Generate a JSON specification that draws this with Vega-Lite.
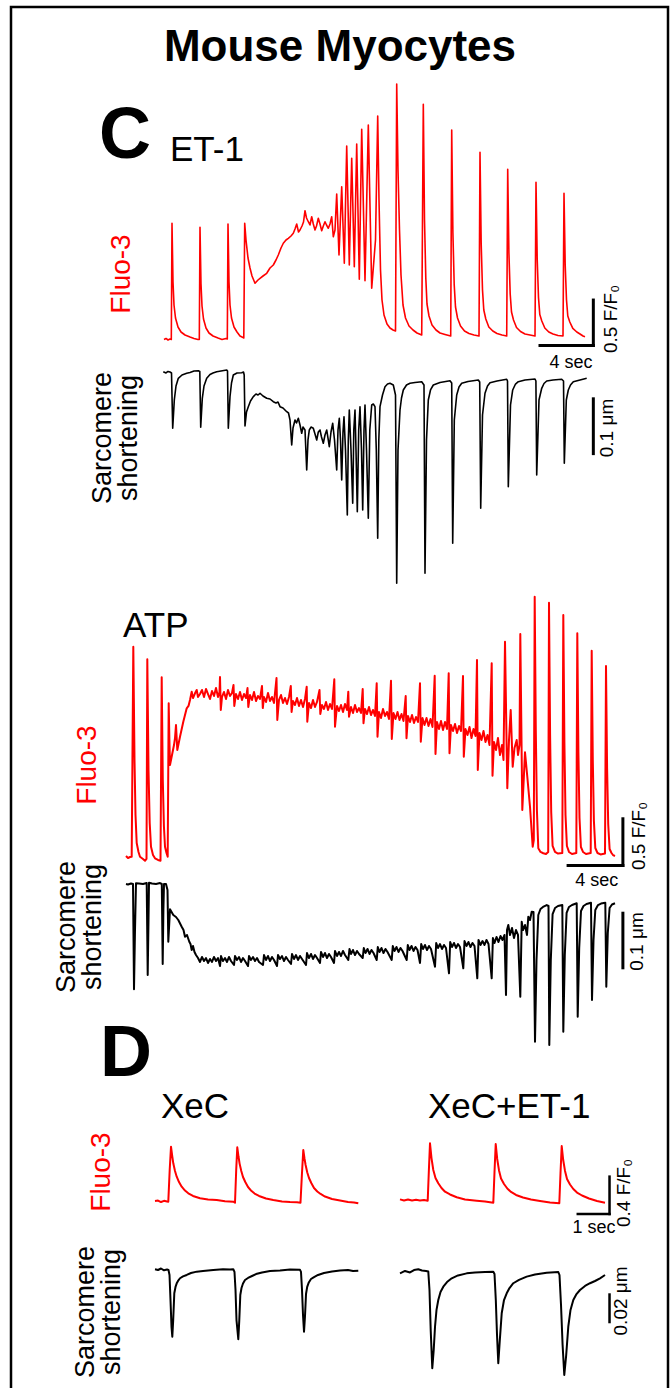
{
"$schema":"https://vega.github.io/schema/vega-lite/v6.json",
"width":670,"height":1388,
"autosize":{"type":"fit","contains":"padding"},
"padding":{"left":11,"top":7,"right":2,"bottom":-3},
"background":"white",
"config":{"view":{"stroke":"#000000","strokeWidth":2.5},"text":{"font":"Liberation Sans","color":"#000000"}},
"datasets":{
"etFluo":[{"t":0,"v":0.995},{"t":0.15,"v":1.006},{"t":0.3,"v":0.989},{"t":0.45,"v":1.0},{"t":0.548,"v":0.995},{"t":0.6,"v":2.273},{"t":0.675,"v":1.627},{"t":0.75,"v":1.374},{"t":0.863,"v":1.231},{"t":1.05,"v":1.132},{"t":1.275,"v":1.077},{"t":1.575,"v":1.044},{"t":1.95,"v":1.022},{"t":2.25,"v":1.006},{"t":2.55,"v":0.995},{"t":2.648,"v":0.995},{"t":2.7,"v":2.229},{"t":2.775,"v":1.605},{"t":2.85,"v":1.363},{"t":2.963,"v":1.22},{"t":3.15,"v":1.121},{"t":3.375,"v":1.066},{"t":3.675,"v":1.033},{"t":4.05,"v":1.011},{"t":4.35,"v":0.995},{"t":4.65,"v":1.006},{"t":4.748,"v":1.0},{"t":4.8,"v":2.265},{"t":4.875,"v":1.627},{"t":4.95,"v":1.374},{"t":5.063,"v":1.231},{"t":5.25,"v":1.132},{"t":5.475,"v":1.077},{"t":5.7,"v":1.033},{"t":5.925,"v":1.017},{"t":5.985,"v":1.011},{"t":6.053,"v":2.273},{"t":6.15,"v":2.089},{"t":6.3,"v":1.891},{"t":6.45,"v":1.781},{"t":6.6,"v":1.693},{"t":6.825,"v":1.613},{"t":7.05,"v":1.649},{"t":7.2,"v":1.668},{"t":7.425,"v":1.693},{"t":7.703,"v":1.723},{"t":7.95,"v":1.781},{"t":8.198,"v":1.814},{"t":8.4,"v":1.869},{"t":8.573,"v":1.924},{"t":8.775,"v":2.001},{"t":8.948,"v":2.053},{"t":9.15,"v":2.089},{"t":9.323,"v":2.108},{"t":9.525,"v":2.133},{"t":9.698,"v":2.163},{"t":9.825,"v":2.21},{"t":9.953,"v":2.265},{"t":10.088,"v":2.177},{"t":10.2,"v":2.199},{"t":10.35,"v":2.243},{"t":10.463,"v":2.287},{"t":10.575,"v":2.411},{"t":10.688,"v":2.331},{"t":10.823,"v":2.29},{"t":10.95,"v":2.254},{"t":11.078,"v":2.345},{"t":11.198,"v":2.265},{"t":11.325,"v":2.199},{"t":11.438,"v":2.243},{"t":11.573,"v":2.328},{"t":11.7,"v":2.265},{"t":11.828,"v":2.191},{"t":11.948,"v":2.243},{"t":12.075,"v":2.29},{"t":12.188,"v":2.254},{"t":12.323,"v":2.218},{"t":12.45,"v":2.265},{"t":12.578,"v":2.345},{"t":12.698,"v":2.125},{"t":12.825,"v":2.199},{"t":12.953,"v":2.595},{"t":13.125,"v":1.924},{"t":13.328,"v":2.675},{"t":13.523,"v":1.833},{"t":13.703,"v":3.123},{"t":13.898,"v":1.814},{"t":14.078,"v":2.988},{"t":14.273,"v":1.795},{"t":14.453,"v":3.145},{"t":14.648,"v":1.657},{"t":14.828,"v":3.307},{"t":15.075,"v":1.641},{"t":15.323,"v":3.354},{"t":15.578,"v":1.558},{"t":15.863,"v":2.089},{"t":16.028,"v":3.453},{"t":16.125,"v":2.529},{"t":16.238,"v":1.759},{"t":16.35,"v":1.429},{"t":16.5,"v":1.264},{"t":16.725,"v":1.165},{"t":16.95,"v":1.121},{"t":17.175,"v":1.099},{"t":17.363,"v":1.088},{"t":17.453,"v":3.805},{"t":17.55,"v":2.859},{"t":17.663,"v":2.199},{"t":17.775,"v":1.704},{"t":17.925,"v":1.374},{"t":18.113,"v":1.231},{"t":18.375,"v":1.143},{"t":18.675,"v":1.099},{"t":18.975,"v":1.066},{"t":19.328,"v":1.044},{"t":19.448,"v":3.582},{"t":19.538,"v":2.309},{"t":19.635,"v":1.671},{"t":19.725,"v":1.385},{"t":19.875,"v":1.253},{"t":20.1,"v":1.154},{"t":20.4,"v":1.099},{"t":20.7,"v":1.066},{"t":21.075,"v":1.05},{"t":21.503,"v":1.033},{"t":21.578,"v":3.299},{"t":21.668,"v":2.166},{"t":21.765,"v":1.6},{"t":21.863,"v":1.352},{"t":22.013,"v":1.231},{"t":22.238,"v":1.143},{"t":22.538,"v":1.088},{"t":22.875,"v":1.061},{"t":23.25,"v":1.044},{"t":23.625,"v":1.033},{"t":23.7,"v":3.054},{"t":23.79,"v":2.045},{"t":23.888,"v":1.539},{"t":23.985,"v":1.319},{"t":24.135,"v":1.22},{"t":24.36,"v":1.132},{"t":24.66,"v":1.088},{"t":24.975,"v":1.061},{"t":25.35,"v":1.044},{"t":25.703,"v":1.033},{"t":25.778,"v":2.867},{"t":25.868,"v":1.946},{"t":25.965,"v":1.495},{"t":26.063,"v":1.297},{"t":26.213,"v":1.209},{"t":26.438,"v":1.127},{"t":26.738,"v":1.083},{"t":27.075,"v":1.055},{"t":27.45,"v":1.044},{"t":27.825,"v":1.033},{"t":27.9,"v":2.724},{"t":27.99,"v":1.88},{"t":28.088,"v":1.455},{"t":28.185,"v":1.27},{"t":28.335,"v":1.198},{"t":28.56,"v":1.121},{"t":28.86,"v":1.077},{"t":29.175,"v":1.055},{"t":29.55,"v":1.039},{"t":29.925,"v":1.033},{"t":30.0,"v":2.603},{"t":30.09,"v":1.814},{"t":30.188,"v":1.429},{"t":30.285,"v":1.253},{"t":30.435,"v":1.187},{"t":30.66,"v":1.116},{"t":30.96,"v":1.077},{"t":31.2,"v":1.055},{"t":31.425,"v":1.033},{"t":31.575,"v":1.025}],
"etSarc":[{"t":-0.053,"v":0.0005},{"t":0.15,"v":-0.0017},{"t":0.3,"v":0.0009},{"t":0.45,"v":0},{"t":0.563,"v":-0.0017},{"t":0.653,"v":-0.0974},{"t":0.773,"v":-0.0484},{"t":0.9,"v":-0.0242},{"t":1.073,"v":-0.0109},{"t":1.35,"v":-0.0052},{"t":1.703,"v":-0.0022},{"t":1.95,"v":-0.0009},{"t":2.25,"v":0.0017},{"t":2.573,"v":0.0022},{"t":2.685,"v":0.0009},{"t":2.753,"v":-0.0957},{"t":2.873,"v":-0.0455},{"t":3.0,"v":-0.0242},{"t":3.203,"v":-0.0109},{"t":3.45,"v":-0.0043},{"t":3.675,"v":-0.0017},{"t":3.953,"v":0.0005},{"t":4.275,"v":0.0017},{"t":4.703,"v":0.0035},{"t":4.763,"v":0.0017},{"t":4.823,"v":-0.0974},{"t":4.95,"v":-0.0427},{"t":5.063,"v":-0.019},{"t":5.198,"v":-0.0052},{"t":5.475,"v":-0.0017},{"t":5.828,"v":-0.0012},{"t":5.963,"v":0},{"t":6.015,"v":-0.0052},{"t":6.075,"v":-0.0934},{"t":6.188,"v":-0.0692},{"t":6.323,"v":-0.06},{"t":6.488,"v":-0.0502},{"t":6.698,"v":-0.0427},{"t":6.9,"v":-0.0381},{"t":7.05,"v":-0.0398},{"t":7.2,"v":-0.0368},{"t":7.425,"v":-0.0415},{"t":7.703,"v":-0.0455},{"t":7.95,"v":-0.0467},{"t":8.198,"v":-0.0514},{"t":8.4,"v":-0.0536},{"t":8.55,"v":-0.0519},{"t":8.7,"v":-0.06},{"t":8.925,"v":-0.0623},{"t":9.203,"v":-0.0687},{"t":9.338,"v":-0.0709},{"t":9.45,"v":-0.083},{"t":9.578,"v":-0.1263},{"t":9.675,"v":-0.0969},{"t":9.825,"v":-0.083},{"t":9.938,"v":-0.0882},{"t":10.073,"v":-0.0801},{"t":10.2,"v":-0.0917},{"t":10.328,"v":-0.106},{"t":10.425,"v":-0.0952},{"t":10.575,"v":-0.1003},{"t":10.703,"v":-0.1695},{"t":10.8,"v":-0.1176},{"t":10.898,"v":-0.1003},{"t":11.025,"v":-0.0952},{"t":11.198,"v":-0.0974},{"t":11.325,"v":-0.1073},{"t":11.453,"v":-0.1176},{"t":11.573,"v":-0.1038},{"t":11.7,"v":-0.1003},{"t":11.813,"v":-0.1125},{"t":11.948,"v":-0.1233},{"t":12.075,"v":-0.109},{"t":12.203,"v":-0.1003},{"t":12.3,"v":-0.1142},{"t":12.398,"v":-0.1292},{"t":12.525,"v":-0.1038},{"t":12.653,"v":-0.0887},{"t":12.788,"v":-0.1176},{"t":12.953,"v":-0.1695},{"t":13.05,"v":-0.1003},{"t":13.148,"v":-0.0801},{"t":13.238,"v":-0.1176},{"t":13.328,"v":-0.1868},{"t":13.425,"v":-0.1038},{"t":13.5,"v":-0.0773},{"t":13.613,"v":-0.1349},{"t":13.748,"v":-0.2474},{"t":13.823,"v":-0.1176},{"t":13.898,"v":-0.0657},{"t":14.025,"v":-0.1349},{"t":14.153,"v":-0.2271},{"t":14.235,"v":-0.1003},{"t":14.325,"v":-0.0657},{"t":14.4,"v":-0.1349},{"t":14.498,"v":-0.2417},{"t":14.603,"v":-0.1003},{"t":14.7,"v":-0.06},{"t":14.813,"v":-0.1349},{"t":14.903,"v":-0.2387},{"t":15.0,"v":-0.1003},{"t":15.075,"v":-0.0571},{"t":15.188,"v":-0.1349},{"t":15.323,"v":-0.2531},{"t":15.435,"v":-0.1003},{"t":15.578,"v":-0.0571},{"t":15.698,"v":-0.0554},{"t":15.825,"v":-0.06},{"t":15.923,"v":-0.1349},{"t":16.028,"v":-0.2877},{"t":16.11,"v":-0.1176},{"t":16.2,"v":-0.06},{"t":16.388,"v":-0.0398},{"t":16.575,"v":-0.0254},{"t":16.763,"v":-0.0208},{"t":16.95,"v":-0.0196},{"t":17.198,"v":-0.0225},{"t":17.363,"v":-0.0398},{"t":17.453,"v":-0.3655},{"t":17.55,"v":-0.1349},{"t":17.7,"v":-0.0657},{"t":17.813,"v":-0.045},{"t":17.948,"v":-0.0311},{"t":18.188,"v":-0.0225},{"t":18.45,"v":-0.0196},{"t":18.825,"v":-0.0182},{"t":19.328,"v":-0.0168},{"t":19.5,"v":-0.0225},{"t":19.575,"v":-0.3482},{"t":19.688,"v":-0.1176},{"t":19.823,"v":-0.0484},{"t":19.988,"v":-0.0311},{"t":20.198,"v":-0.0225},{"t":20.7,"v":-0.0182},{"t":21.45,"v":-0.0151},{"t":21.578,"v":-0.019},{"t":21.653,"v":-0.2963},{"t":21.773,"v":-0.083},{"t":21.953,"v":-0.0398},{"t":22.125,"v":-0.026},{"t":22.328,"v":-0.0196},{"t":22.8,"v":-0.0164},{"t":23.573,"v":-0.0138},{"t":23.678,"v":-0.0173},{"t":23.753,"v":-0.2358},{"t":23.888,"v":-0.0744},{"t":24.075,"v":-0.0368},{"t":24.263,"v":-0.0242},{"t":24.45,"v":-0.0185},{"t":24.975,"v":-0.0156},{"t":25.703,"v":-0.0126},{"t":25.763,"v":-0.0156},{"t":25.823,"v":-0.1984},{"t":25.988,"v":-0.0571},{"t":26.153,"v":-0.0311},{"t":26.363,"v":-0.0208},{"t":26.573,"v":-0.0168},{"t":27.075,"v":-0.0138},{"t":27.825,"v":-0.0121},{"t":27.893,"v":-0.0156},{"t":27.953,"v":-0.1782},{"t":28.125,"v":-0.0484},{"t":28.328,"v":-0.0282},{"t":28.5,"v":-0.0199},{"t":28.703,"v":-0.0156},{"t":29.175,"v":-0.0138},{"t":29.828,"v":-0.0126},{"t":29.963,"v":-0.0156},{"t":30.023,"v":-0.1579},{"t":30.173,"v":-0.0484},{"t":30.323,"v":-0.0311},{"t":30.488,"v":-0.0225},{"t":30.698,"v":-0.0168},{"t":31.2,"v":-0.0138},{"t":31.703,"v":-0.0109}],
"atpFluo":[{"t":-0.073,"v":1.011},{"t":0.073,"v":0.989},{"t":0.219,"v":1.0},{"t":0.343,"v":1.003},{"t":0.46,"v":3.25},{"t":0.548,"v":2.038},{"t":0.621,"v":1.449},{"t":0.708,"v":1.15},{"t":0.84,"v":1.054},{"t":0.949,"v":1.003},{"t":1.168,"v":0.979},{"t":1.314,"v":0.96},{"t":1.424,"v":0.979},{"t":1.482,"v":3.115},{"t":1.57,"v":1.931},{"t":1.657,"v":1.364},{"t":1.752,"v":1.11},{"t":1.898,"v":1.021},{"t":2.044,"v":0.986},{"t":2.263,"v":0.968},{"t":2.446,"v":0.96},{"t":2.533,"v":2.923},{"t":2.613,"v":1.824},{"t":2.694,"v":1.332},{"t":2.774,"v":1.11},{"t":2.884,"v":1.043},{"t":2.971,"v":1.003},{"t":3.044,"v":2.645},{"t":3.095,"v":2.252},{"t":3.139,"v":1.984},{"t":3.285,"v":2.091},{"t":3.431,"v":2.198},{"t":3.504,"v":2.273},{"t":3.577,"v":2.412},{"t":3.672,"v":2.145},{"t":3.869,"v":2.287},{"t":4.11,"v":2.448},{"t":4.358,"v":2.591},{"t":4.49,"v":2.616},{"t":4.599,"v":2.68},{"t":4.723,"v":2.769},{"t":4.818,"v":2.701},{"t":4.964,"v":2.752},{"t":5.088,"v":2.787},{"t":5.183,"v":2.712},{"t":5.329,"v":2.744},{"t":5.475,"v":2.787},{"t":5.621,"v":2.712},{"t":5.767,"v":2.798},{"t":5.913,"v":2.744},{"t":6.059,"v":2.691},{"t":6.205,"v":2.776},{"t":6.351,"v":2.723},{"t":6.497,"v":2.808},{"t":6.643,"v":2.712},{"t":6.753,"v":2.766},{"t":6.789,"v":2.926},{"t":6.847,"v":2.573},{"t":6.935,"v":2.712},{"t":7.081,"v":2.766},{"t":7.227,"v":2.691},{"t":7.373,"v":2.787},{"t":7.519,"v":2.723},{"t":7.665,"v":2.755},{"t":7.775,"v":2.84},{"t":7.833,"v":2.616},{"t":7.957,"v":2.744},{"t":8.103,"v":2.691},{"t":8.249,"v":2.766},{"t":8.395,"v":2.68},{"t":8.541,"v":2.744},{"t":8.687,"v":2.701},{"t":8.797,"v":2.808},{"t":8.855,"v":2.605},{"t":8.979,"v":2.733},{"t":9.125,"v":2.68},{"t":9.271,"v":2.766},{"t":9.417,"v":2.669},{"t":9.563,"v":2.723},{"t":9.709,"v":2.691},{"t":9.855,"v":2.83},{"t":9.913,"v":2.594},{"t":10.001,"v":2.712},{"t":10.147,"v":2.659},{"t":10.293,"v":2.755},{"t":10.439,"v":2.669},{"t":10.585,"v":2.712},{"t":10.731,"v":2.648},{"t":10.914,"v":2.915},{"t":10.972,"v":2.466},{"t":11.096,"v":2.68},{"t":11.242,"v":2.733},{"t":11.388,"v":2.648},{"t":11.534,"v":2.701},{"t":11.68,"v":2.637},{"t":11.826,"v":2.712},{"t":11.957,"v":2.83},{"t":12.016,"v":2.552},{"t":12.118,"v":2.669},{"t":12.264,"v":2.626},{"t":12.41,"v":2.701},{"t":12.556,"v":2.616},{"t":12.702,"v":2.68},{"t":12.848,"v":2.605},{"t":12.994,"v":2.691},{"t":13.118,"v":2.822},{"t":13.162,"v":2.448},{"t":13.286,"v":2.648},{"t":13.432,"v":2.594},{"t":13.578,"v":2.68},{"t":13.724,"v":2.605},{"t":13.87,"v":2.659},{"t":14.053,"v":2.787},{"t":14.111,"v":2.53},{"t":14.235,"v":2.626},{"t":14.381,"v":2.584},{"t":14.527,"v":2.659},{"t":14.673,"v":2.573},{"t":14.819,"v":2.637},{"t":14.965,"v":2.584},{"t":15.133,"v":2.901},{"t":15.184,"v":2.394},{"t":15.33,"v":2.616},{"t":15.476,"v":2.562},{"t":15.622,"v":2.626},{"t":15.768,"v":2.552},{"t":15.914,"v":2.637},{"t":16.06,"v":2.573},{"t":16.155,"v":2.769},{"t":16.206,"v":2.501},{"t":16.352,"v":2.605},{"t":16.498,"v":2.541},{"t":16.644,"v":2.626},{"t":16.79,"v":2.552},{"t":16.936,"v":2.594},{"t":17.082,"v":2.541},{"t":17.206,"v":2.798},{"t":17.265,"v":2.431},{"t":17.374,"v":2.584},{"t":17.52,"v":2.53},{"t":17.666,"v":2.605},{"t":17.812,"v":2.519},{"t":17.958,"v":2.573},{"t":18.104,"v":2.509},{"t":18.228,"v":2.859},{"t":18.287,"v":2.287},{"t":18.396,"v":2.552},{"t":18.542,"v":2.487},{"t":18.688,"v":2.584},{"t":18.834,"v":2.509},{"t":18.98,"v":2.552},{"t":19.126,"v":2.477},{"t":19.272,"v":2.886},{"t":19.33,"v":2.263},{"t":19.455,"v":2.541},{"t":19.601,"v":2.477},{"t":19.747,"v":2.552},{"t":19.893,"v":2.466},{"t":20.039,"v":2.53},{"t":20.185,"v":2.455},{"t":20.345,"v":2.723},{"t":20.404,"v":2.27},{"t":20.513,"v":2.509},{"t":20.659,"v":2.445},{"t":20.805,"v":2.519},{"t":20.951,"v":2.434},{"t":21.097,"v":2.498},{"t":21.243,"v":2.445},{"t":21.389,"v":2.859},{"t":21.447,"v":2.234},{"t":21.572,"v":2.487},{"t":21.718,"v":2.412},{"t":21.864,"v":2.487},{"t":22.01,"v":2.402},{"t":22.156,"v":2.477},{"t":22.302,"v":2.391},{"t":22.462,"v":2.94},{"t":22.521,"v":2.102},{"t":22.63,"v":2.445},{"t":22.776,"v":2.37},{"t":22.922,"v":2.455},{"t":23.068,"v":2.359},{"t":23.214,"v":2.445},{"t":23.36,"v":2.37},{"t":23.484,"v":2.966},{"t":23.543,"v":2.11},{"t":23.652,"v":2.412},{"t":23.798,"v":2.348},{"t":23.944,"v":2.423},{"t":24.09,"v":2.327},{"t":24.236,"v":2.402},{"t":24.382,"v":2.348},{"t":24.528,"v":2.937},{"t":24.586,"v":2.073},{"t":24.711,"v":2.37},{"t":24.857,"v":2.305},{"t":25.003,"v":2.391},{"t":25.149,"v":2.273},{"t":25.295,"v":2.37},{"t":25.441,"v":2.295},{"t":25.55,"v":3.108},{"t":25.608,"v":1.931},{"t":25.733,"v":2.327},{"t":25.879,"v":2.252},{"t":26.025,"v":2.348},{"t":26.171,"v":2.231},{"t":26.317,"v":2.305},{"t":26.463,"v":2.198},{"t":26.623,"v":3.073},{"t":26.682,"v":1.87},{"t":26.791,"v":2.231},{"t":26.937,"v":2.145},{"t":27.083,"v":2.273},{"t":27.229,"v":2.091},{"t":27.375,"v":2.198},{"t":27.485,"v":2.038},{"t":27.594,"v":3.304},{"t":27.762,"v":1.735},{"t":27.886,"v":2.252},{"t":28.01,"v":2.573},{"t":28.156,"v":1.966},{"t":28.288,"v":2.166},{"t":28.448,"v":2.252},{"t":28.543,"v":2.091},{"t":28.653,"v":2.198},{"t":28.711,"v":3.386},{"t":28.857,"v":1.503},{"t":29.054,"v":2.12},{"t":29.222,"v":1.859},{"t":29.419,"v":1.538},{"t":29.616,"v":1.11},{"t":29.696,"v":1.182},{"t":29.762,"v":3.785},{"t":29.842,"v":2.359},{"t":29.923,"v":1.503},{"t":30.025,"v":1.093},{"t":30.186,"v":1.054},{"t":30.39,"v":1.04},{"t":30.587,"v":1.032},{"t":30.748,"v":1.054},{"t":30.806,"v":3.721},{"t":30.886,"v":2.305},{"t":30.967,"v":1.482},{"t":31.069,"v":1.118},{"t":31.244,"v":1.054},{"t":31.463,"v":1.037},{"t":31.777,"v":1.043},{"t":31.85,"v":3.589},{"t":31.93,"v":2.231},{"t":32.011,"v":1.449},{"t":32.113,"v":1.118},{"t":32.266,"v":1.054},{"t":32.485,"v":1.032},{"t":32.799,"v":1.043},{"t":32.872,"v":3.394},{"t":32.952,"v":2.124},{"t":33.033,"v":1.417},{"t":33.135,"v":1.107},{"t":33.288,"v":1.054},{"t":33.507,"v":1.032},{"t":33.85,"v":1.043},{"t":33.923,"v":3.207},{"t":34.003,"v":2.038},{"t":34.084,"v":1.385},{"t":34.186,"v":1.096},{"t":34.347,"v":1.043},{"t":34.566,"v":1.027},{"t":34.894,"v":1.037},{"t":34.967,"v":3.044},{"t":35.047,"v":1.952},{"t":35.128,"v":1.353},{"t":35.23,"v":1.086},{"t":35.369,"v":1.043},{"t":35.478,"v":1.021},{"t":35.624,"v":1.011}],
"atpSarc":[{"t":-0.073,"v":0},{"t":0.073,"v":-0.0009},{"t":0.292,"v":0.0009},{"t":0.438,"v":0},{"t":0.511,"v":-0.1828},{"t":0.584,"v":-0.0799},{"t":0.657,"v":0.0012},{"t":0.876,"v":0.0009},{"t":1.168,"v":0},{"t":1.438,"v":0.0017},{"t":1.511,"v":-0.158},{"t":1.57,"v":-0.0625},{"t":1.606,"v":0.0023},{"t":1.825,"v":0.0009},{"t":2.117,"v":0},{"t":2.409,"v":0.0017},{"t":2.54,"v":0},{"t":2.606,"v":-0.1389},{"t":2.657,"v":-0.0451},{"t":2.701,"v":0},{"t":2.847,"v":0},{"t":2.957,"v":-0.0104},{"t":3.015,"v":-0.1002},{"t":3.139,"v":-0.0439},{"t":3.38,"v":-0.0538},{"t":3.577,"v":-0.0573},{"t":3.745,"v":-0.0625},{"t":3.993,"v":-0.0741},{"t":4.125,"v":-0.0799},{"t":4.234,"v":-0.0915},{"t":4.38,"v":-0.0885},{"t":4.548,"v":-0.1002},{"t":4.636,"v":-0.1042},{"t":4.723,"v":-0.1146},{"t":4.818,"v":-0.1076},{"t":4.928,"v":-0.118},{"t":5.037,"v":-0.1233},{"t":5.183,"v":-0.1285},{"t":5.329,"v":-0.1354},{"t":5.475,"v":-0.1267},{"t":5.621,"v":-0.1337},{"t":5.767,"v":-0.1285},{"t":5.913,"v":-0.1371},{"t":6.059,"v":-0.1302},{"t":6.205,"v":-0.1354},{"t":6.351,"v":-0.1267},{"t":6.497,"v":-0.1337},{"t":6.643,"v":-0.1285},{"t":6.789,"v":-0.1424},{"t":6.862,"v":-0.125},{"t":7.008,"v":-0.1337},{"t":7.154,"v":-0.1285},{"t":7.3,"v":-0.1354},{"t":7.446,"v":-0.1267},{"t":7.592,"v":-0.1337},{"t":7.811,"v":-0.1406},{"t":7.884,"v":-0.125},{"t":8.03,"v":-0.1319},{"t":8.176,"v":-0.1267},{"t":8.322,"v":-0.1354},{"t":8.468,"v":-0.1285},{"t":8.614,"v":-0.1337},{"t":8.833,"v":-0.1424},{"t":8.906,"v":-0.125},{"t":9.052,"v":-0.1319},{"t":9.198,"v":-0.1267},{"t":9.344,"v":-0.1337},{"t":9.49,"v":-0.1285},{"t":9.636,"v":-0.1354},{"t":9.928,"v":-0.1406},{"t":10.001,"v":-0.1233},{"t":10.147,"v":-0.1319},{"t":10.293,"v":-0.125},{"t":10.439,"v":-0.1337},{"t":10.585,"v":-0.1267},{"t":10.731,"v":-0.1319},{"t":10.95,"v":-0.1424},{"t":11.023,"v":-0.1233},{"t":11.169,"v":-0.1302},{"t":11.315,"v":-0.125},{"t":11.461,"v":-0.1337},{"t":11.607,"v":-0.1267},{"t":11.753,"v":-0.1319},{"t":11.972,"v":-0.1389},{"t":12.045,"v":-0.1215},{"t":12.191,"v":-0.1302},{"t":12.337,"v":-0.1233},{"t":12.483,"v":-0.1319},{"t":12.629,"v":-0.125},{"t":12.775,"v":-0.1302},{"t":13.067,"v":-0.1406},{"t":13.14,"v":-0.1198},{"t":13.286,"v":-0.1285},{"t":13.432,"v":-0.1215},{"t":13.578,"v":-0.1302},{"t":13.724,"v":-0.1233},{"t":13.87,"v":-0.1285},{"t":14.089,"v":-0.1371},{"t":14.162,"v":-0.118},{"t":14.308,"v":-0.1267},{"t":14.454,"v":-0.1198},{"t":14.6,"v":-0.1285},{"t":14.746,"v":-0.1215},{"t":14.892,"v":-0.1267},{"t":15.111,"v":-0.1371},{"t":15.184,"v":-0.1163},{"t":15.33,"v":-0.125},{"t":15.476,"v":-0.118},{"t":15.622,"v":-0.125},{"t":15.768,"v":-0.1163},{"t":15.914,"v":-0.1233},{"t":16.155,"v":-0.1319},{"t":16.243,"v":-0.1128},{"t":16.352,"v":-0.1215},{"t":16.498,"v":-0.1146},{"t":16.644,"v":-0.1233},{"t":16.79,"v":-0.1163},{"t":16.936,"v":-0.1215},{"t":17.206,"v":-0.1285},{"t":17.286,"v":-0.1111},{"t":17.411,"v":-0.1198},{"t":17.557,"v":-0.1128},{"t":17.703,"v":-0.1215},{"t":17.849,"v":-0.1146},{"t":17.995,"v":-0.1198},{"t":18.228,"v":-0.1319},{"t":18.308,"v":-0.1094},{"t":18.433,"v":-0.118},{"t":18.579,"v":-0.1111},{"t":18.725,"v":-0.1198},{"t":18.871,"v":-0.1128},{"t":19.017,"v":-0.118},{"t":19.323,"v":-0.1319},{"t":19.403,"v":-0.1076},{"t":19.528,"v":-0.1163},{"t":19.674,"v":-0.1094},{"t":19.82,"v":-0.118},{"t":19.966,"v":-0.1111},{"t":20.112,"v":-0.1163},{"t":20.418,"v":-0.1319},{"t":20.498,"v":-0.1059},{"t":20.623,"v":-0.1146},{"t":20.769,"v":-0.1076},{"t":20.915,"v":-0.1163},{"t":21.061,"v":-0.1094},{"t":21.207,"v":-0.1146},{"t":21.389,"v":-0.1371},{"t":21.477,"v":-0.1042},{"t":21.608,"v":-0.1128},{"t":21.754,"v":-0.1059},{"t":21.9,"v":-0.1146},{"t":22.046,"v":-0.1076},{"t":22.192,"v":-0.1128},{"t":22.484,"v":-0.1436},{"t":22.572,"v":-0.1024},{"t":22.703,"v":-0.1111},{"t":22.849,"v":-0.1042},{"t":22.995,"v":-0.1128},{"t":23.141,"v":-0.1059},{"t":23.287,"v":-0.1111},{"t":23.506,"v":-0.155},{"t":23.594,"v":-0.1007},{"t":23.725,"v":-0.1094},{"t":23.871,"v":-0.1024},{"t":24.017,"v":-0.1111},{"t":24.163,"v":-0.1042},{"t":24.309,"v":-0.1094},{"t":24.55,"v":-0.1463},{"t":24.638,"v":-0.099},{"t":24.784,"v":-0.1076},{"t":24.93,"v":-0.1007},{"t":25.076,"v":-0.1094},{"t":25.222,"v":-0.1024},{"t":25.368,"v":-0.1076},{"t":25.572,"v":-0.1637},{"t":25.66,"v":-0.0972},{"t":25.806,"v":-0.1059},{"t":25.952,"v":-0.099},{"t":26.098,"v":-0.1059},{"t":26.244,"v":-0.0972},{"t":26.39,"v":-0.1042},{"t":26.623,"v":-0.1637},{"t":26.711,"v":-0.0937},{"t":26.828,"v":-0.1024},{"t":26.974,"v":-0.092},{"t":27.12,"v":-0.1007},{"t":27.266,"v":-0.0903},{"t":27.412,"v":-0.0972},{"t":27.558,"v":-0.0885},{"t":27.667,"v":-0.1927},{"t":27.74,"v":-0.0799},{"t":27.835,"v":-0.0712},{"t":27.959,"v":-0.0885},{"t":28.105,"v":-0.0764},{"t":28.251,"v":-0.0937},{"t":28.397,"v":-0.0799},{"t":28.543,"v":-0.0885},{"t":28.711,"v":-0.1956},{"t":28.813,"v":-0.0654},{"t":28.908,"v":-0.0799},{"t":29.054,"v":-0.0712},{"t":29.2,"v":-0.0885},{"t":29.295,"v":-0.0568},{"t":29.419,"v":-0.0625},{"t":29.543,"v":-0.0481},{"t":29.675,"v":-0.0486},{"t":29.784,"v":-0.2738},{"t":29.894,"v":-0.1319},{"t":30.025,"v":-0.0538},{"t":30.186,"v":-0.0434},{"t":30.368,"v":-0.0399},{"t":30.638,"v":-0.0365},{"t":30.77,"v":-0.0382},{"t":30.828,"v":-0.2795},{"t":30.937,"v":-0.1319},{"t":31.069,"v":-0.0521},{"t":31.244,"v":-0.0417},{"t":31.463,"v":-0.0382},{"t":31.777,"v":-0.0365},{"t":31.85,"v":-0.2564},{"t":31.959,"v":-0.1233},{"t":32.091,"v":-0.0503},{"t":32.266,"v":-0.0399},{"t":32.485,"v":-0.0365},{"t":32.828,"v":-0.0335},{"t":32.901,"v":-0.2304},{"t":33.011,"v":-0.1111},{"t":33.142,"v":-0.0469},{"t":33.325,"v":-0.0382},{"t":33.544,"v":-0.0347},{"t":33.872,"v":-0.0325},{"t":33.945,"v":-0.2014},{"t":34.055,"v":-0.0972},{"t":34.186,"v":-0.0451},{"t":34.383,"v":-0.0365},{"t":34.602,"v":-0.0339},{"t":34.916,"v":-0.0325},{"t":34.989,"v":-0.1783},{"t":35.098,"v":-0.0851},{"t":35.23,"v":-0.0417},{"t":35.405,"v":-0.0356},{"t":35.624,"v":-0.0335}],
"xecFluo":[{"t":0,"v":1.0},{"t":0.095,"v":1.005},{"t":0.189,"v":0.989},{"t":0.284,"v":1.002},{"t":0.378,"v":0.995},{"t":0.419,"v":0.993},{"t":0.463,"v":1.332},{"t":0.504,"v":1.581},{"t":0.542,"v":1.482},{"t":0.576,"v":1.403},{"t":0.63,"v":1.321},{"t":0.684,"v":1.26},{"t":0.756,"v":1.203},{"t":0.841,"v":1.153},{"t":0.945,"v":1.112},{"t":1.049,"v":1.082},{"t":1.197,"v":1.054},{"t":1.418,"v":1.029},{"t":1.67,"v":1.016},{"t":1.944,"v":1.011},{"t":2.205,"v":0.997},{"t":2.466,"v":0.993},{"t":2.52,"v":0.982},{"t":2.558,"v":1.332},{"t":2.592,"v":1.575},{"t":2.63,"v":1.476},{"t":2.665,"v":1.4},{"t":2.718,"v":1.321},{"t":2.772,"v":1.257},{"t":2.844,"v":1.203},{"t":2.93,"v":1.15},{"t":3.033,"v":1.109},{"t":3.137,"v":1.08},{"t":3.276,"v":1.054},{"t":3.497,"v":1.027},{"t":3.726,"v":1.011},{"t":4.001,"v":0.995},{"t":4.253,"v":0.989},{"t":4.473,"v":0.986},{"t":4.583,"v":0.982},{"t":4.627,"v":1.278},{"t":4.671,"v":1.546},{"t":4.709,"v":1.455},{"t":4.744,"v":1.385},{"t":4.797,"v":1.305},{"t":4.851,"v":1.246},{"t":4.923,"v":1.193},{"t":5.009,"v":1.139},{"t":5.112,"v":1.102},{"t":5.216,"v":1.075},{"t":5.355,"v":1.048},{"t":5.576,"v":1.021},{"t":5.828,"v":1.005},{"t":6.08,"v":0.989},{"t":6.269,"v":0.984},{"t":6.404,"v":0.975}],
"xecSarc":[{"t":0,"v":0.0005},{"t":0.095,"v":0},{"t":0.189,"v":0.001},{"t":0.284,"v":-0.0002},{"t":0.378,"v":0.0003},{"t":0.425,"v":0},{"t":0.457,"v":-0.0033},{"t":0.488,"v":-0.02},{"t":0.52,"v":-0.038},{"t":0.545,"v":-0.0445},{"t":0.573,"v":-0.0334},{"t":0.608,"v":-0.0155},{"t":0.646,"v":-0.0113},{"t":0.684,"v":-0.0089},{"t":0.725,"v":-0.0073},{"t":0.788,"v":-0.0055},{"t":0.882,"v":-0.0043},{"t":0.999,"v":-0.0033},{"t":1.134,"v":-0.002},{"t":1.314,"v":-0.0011},{"t":1.512,"v":-0.0007},{"t":1.836,"v":0},{"t":2.142,"v":0.0005},{"t":2.363,"v":0.0003},{"t":2.466,"v":0.0005},{"t":2.504,"v":-0.0013},{"t":2.536,"v":-0.0133},{"t":2.567,"v":-0.0334},{"t":2.624,"v":-0.0462},{"t":2.655,"v":-0.0334},{"t":2.687,"v":-0.0167},{"t":2.725,"v":-0.012},{"t":2.772,"v":-0.009},{"t":2.835,"v":-0.0067},{"t":2.93,"v":-0.0053},{"t":3.056,"v":-0.004},{"t":3.182,"v":-0.0027},{"t":3.371,"v":-0.0017},{"t":3.623,"v":-0.0007},{"t":3.938,"v":-0.0003},{"t":4.253,"v":0.0003},{"t":4.568,"v":0.0001},{"t":4.599,"v":-0.0013},{"t":4.631,"v":-0.0133},{"t":4.662,"v":-0.03},{"t":4.694,"v":-0.0412},{"t":4.725,"v":-0.0307},{"t":4.757,"v":-0.016},{"t":4.794,"v":-0.0113},{"t":4.845,"v":-0.0083},{"t":4.914,"v":-0.006},{"t":5.009,"v":-0.0047},{"t":5.135,"v":-0.0033},{"t":5.324,"v":-0.002},{"t":5.576,"v":-0.001},{"t":5.828,"v":-0.0003},{"t":6.08,"v":0},{"t":6.237,"v":-0.0007},{"t":6.404,"v":-0.0005}],
"xecEtFluo":[{"t":0,"v":1.007},{"t":0.126,"v":0.995},{"t":0.252,"v":1.005},{"t":0.378,"v":0.995},{"t":0.504,"v":1.002},{"t":0.63,"v":0.995},{"t":0.756,"v":1.0},{"t":0.873,"v":0.993},{"t":0.91,"v":1.321},{"t":0.945,"v":1.607},{"t":0.992,"v":1.449},{"t":1.049,"v":1.321},{"t":1.118,"v":1.235},{"t":1.206,"v":1.179},{"t":1.307,"v":1.128},{"t":1.418,"v":1.089},{"t":1.575,"v":1.059},{"t":1.786,"v":1.029},{"t":2.048,"v":1.005},{"t":2.416,"v":0.993},{"t":2.678,"v":0.984},{"t":2.939,"v":0.971},{"t":2.977,"v":1.3},{"t":3.015,"v":1.599},{"t":3.062,"v":1.439},{"t":3.119,"v":1.316},{"t":3.182,"v":1.23},{"t":3.276,"v":1.171},{"t":3.38,"v":1.123},{"t":3.497,"v":1.086},{"t":3.654,"v":1.054},{"t":3.875,"v":1.027},{"t":4.127,"v":1.005},{"t":4.41,"v":0.989},{"t":4.725,"v":0.973},{"t":5.018,"v":0.965},{"t":5.056,"v":1.289},{"t":5.094,"v":1.578},{"t":5.141,"v":1.428},{"t":5.198,"v":1.311},{"t":5.261,"v":1.225},{"t":5.355,"v":1.166},{"t":5.459,"v":1.118},{"t":5.576,"v":1.08},{"t":5.733,"v":1.048},{"t":5.954,"v":1.016},{"t":6.206,"v":0.989},{"t":6.458,"v":0.971}],
"xecEtSarc":[{"t":0,"v":-0.0009},{"t":0.158,"v":0.0007},{"t":0.315,"v":-0.0003},{"t":0.441,"v":0.0013},{"t":0.576,"v":0.0018},{"t":0.693,"v":0.001},{"t":0.819,"v":0.0007},{"t":0.891,"v":0.0003},{"t":0.929,"v":-0.012},{"t":0.967,"v":-0.0387},{"t":1.017,"v":-0.0642},{"t":1.062,"v":-0.052},{"t":1.103,"v":-0.0365},{"t":1.15,"v":-0.0253},{"t":1.206,"v":-0.0187},{"t":1.276,"v":-0.0133},{"t":1.364,"v":-0.0098},{"t":1.481,"v":-0.0067},{"t":1.629,"v":-0.0042},{"t":1.827,"v":-0.0023},{"t":2.101,"v":-0.0009},{"t":2.363,"v":-0.0003},{"t":2.678,"v":0},{"t":2.939,"v":0.0002},{"t":2.977,"v":-0.0013},{"t":3.018,"v":-0.0187},{"t":3.056,"v":-0.042},{"t":3.096,"v":-0.0609},{"t":3.144,"v":-0.0454},{"t":3.204,"v":-0.0275},{"t":3.276,"v":-0.0187},{"t":3.361,"v":-0.0142},{"t":3.449,"v":-0.0107},{"t":3.569,"v":-0.0075},{"t":3.749,"v":-0.0053},{"t":3.991,"v":-0.0031},{"t":4.253,"v":-0.0017},{"t":4.621,"v":-0.0005},{"t":4.986,"v":0},{"t":5.024,"v":-0.002},{"t":5.072,"v":-0.022},{"t":5.122,"v":-0.0487},{"t":5.175,"v":-0.0687},{"t":5.235,"v":-0.0554},{"t":5.301,"v":-0.0365},{"t":5.371,"v":-0.0253},{"t":5.459,"v":-0.0187},{"t":5.56,"v":-0.0147},{"t":5.67,"v":-0.012},{"t":5.828,"v":-0.0093},{"t":5.985,"v":-0.0075},{"t":6.143,"v":-0.006},{"t":6.3,"v":-0.0042},{"t":6.458,"v":-0.002}],
"bars":[{"g":"g1","t":28.2,"t2":32.2,"v":0.9285,"v2":0.9285},{"g":"g1","t":32.2,"t2":32.2,"v":0.9285,"v2":1.4285},{"g":"g2","t":32.2,"t2":32.2,"v":-0.0438,"v2":-0.1438},{"g":"g3","t":32.2,"t2":36.2,"v":0.909,"v2":0.909},{"g":"g3","t":36.2,"t2":36.2,"v":0.909,"v2":1.409},{"g":"g4","t":36.2,"t2":36.2,"v":-0.0481,"v2":-0.1481},{"g":"g7","t":5.6,"t2":6.6,"v":0.85,"v2":0.85},{"g":"g7","t":6.6,"t2":6.6,"v":0.85,"v2":1.25},{"g":"g8","t":6.6,"t2":6.6,"v":-0.0142,"v2":-0.0342}],
"labels":[{"g":"g1","r":"title","t":13.2,"v":4.058,"label":"Mouse Myocytes"},{"g":"g1","r":"panel","t":-2.925,"v":2.991,"label":"C"},{"g":"g1","r":"cond","t":0.45,"v":2.958,"label":"ET-1"},{"g":"g1","r":"fluo","t":-2.55,"v":1.715,"label":"Fluo-3"},{"g":"g1","r":"time","t":30.525,"v":0.681,"label":"4 sec"},{"g":"g1","r":"ff0","t":33.975,"v":0.846,"label":"0.5 F/F₀"},{"g":"g2","r":"sarc","t":-3.975,"v":-0.1142,"label":"Sarcomere\nshortening"},{"g":"g2","r":"um","t":33.675,"v":-0.0969,"label":"0.1 μm"},{"g":"g3","r":"cond","t":-0.292,"v":3.354,"label":"ATP"},{"g":"g3","r":"fluo","t":-2.227,"v":1.984,"label":"Fluo-3"},{"g":"g3","r":"time","t":34.288,"v":0.69,"label":"4 sec"},{"g":"g3","r":"ff0","t":37.814,"v":0.861,"label":"0.5 F/F₀"},{"g":"g4","r":"sarc","t":-3.796,"v":-0.0746,"label":"Sarcomere\nshortening"},{"g":"g4","r":"um","t":37.668,"v":-0.0998,"label":"0.1 μm"},{"g":"g5","r":"panel","t":-0.914,"v":2.338,"label":"D"},{"g":"g5","r":"cond","t":0.189,"v":1.888,"label":"XeC"},{"g":"g5","r":"fluo","t":-1.402,"v":1.31,"label":"Fluo-3"},{"g":"g6","r":"sarc","t":-1.922,"v":-0.028,"label":"Sarcomere\nshortening"},{"g":"g7","r":"cond","t":0.882,"v":1.877,"label":"XeC+ET-1"},{"g":"g7","r":"time","t":6.111,"v":0.647,"label":"1 sec"},{"g":"g7","r":"ff0","t":7.245,"v":0.711,"label":"0.4 F/F₀"},{"g":"g8","r":"um","t":7.151,"v":-0.0193,"label":"0.02 μm"}]
},
"layer":[
{"encoding":{"x":{"field":"t","type":"quantitative","scale":{"domain":[-11.475,37.8],"nice":false,"zero":false},"axis":null},"y":{"field":"v","type":"quantitative","scale":{"domain":[-10.572,4.652],"nice":false,"zero":false},"axis":null}},
"layer":[
{"data":{"name":"etFluo"},"mark":{"type":"line","color":"#ff0000","strokeWidth":1.6,"strokeJoin":"round"},"encoding":{}},
{"data":{"name":"bars"},"transform":[{"filter":"datum.g==='g1'"}],"mark":{"type":"rule","color":"#000000","strokeWidth":3,"strokeCap":"square"},"encoding":{"x2":{"field":"t2"},"y2":{"field":"v2"}}},
{"data":{"name":"labels"},"transform":[{"filter":"datum.g==='g1' && datum.r==='title'"}],"mark":{"type":"text","fontSize":44,"fontWeight":"bold","align":"center","baseline":"alphabetic"},"encoding":{"text":{"field":"label"}}},
{"data":{"name":"labels"},"transform":[{"filter":"datum.g==='g1' && datum.r==='panel'"}],"mark":{"type":"text","fontSize":72,"fontWeight":"bold","align":"center","baseline":"alphabetic"},"encoding":{"text":{"field":"label"}}},
{"data":{"name":"labels"},"transform":[{"filter":"datum.g==='g1' && datum.r==='cond'"}],"mark":{"type":"text","fontSize":35,"align":"left","baseline":"alphabetic"},"encoding":{"text":{"field":"label"}}},
{"data":{"name":"labels"},"transform":[{"filter":"datum.g==='g1' && datum.r==='fluo'"}],"mark":{"type":"text","fontSize":28,"angle":270,"align":"center","baseline":"alphabetic","color":"#ff0000"},"encoding":{"text":{"field":"label"}}},
{"data":{"name":"labels"},"transform":[{"filter":"datum.g==='g1' && datum.r==='time'"}],"mark":{"type":"text","fontSize":18,"align":"center","baseline":"alphabetic"},"encoding":{"text":{"field":"label"}}},
{"data":{"name":"labels"},"transform":[{"filter":"datum.g==='g1' && datum.r==='ff0'"}],"mark":{"type":"text","fontSize":19,"angle":270,"align":"left","baseline":"alphabetic"},"encoding":{"text":{"field":"label"}}}
]},
{"encoding":{"x":{"field":"t","type":"quantitative","scale":{"domain":[-11.475,37.8],"nice":false,"zero":false},"axis":null},"y":{"field":"v","type":"quantitative","scale":{"domain":[-1.76287,0.63145],"nice":false,"zero":false},"axis":null}},
"layer":[
{"data":{"name":"etSarc"},"mark":{"type":"line","color":"#000000","strokeWidth":1.6,"strokeJoin":"round"},"encoding":{}},
{"data":{"name":"bars"},"transform":[{"filter":"datum.g==='g2'"}],"mark":{"type":"rule","color":"#000000","strokeWidth":3,"strokeCap":"butt"},"encoding":{"x2":{"field":"t2"},"y2":{"field":"v2"}}},
{"data":{"name":"labels"},"transform":[{"filter":"datum.g==='g2' && datum.r==='sarc'"}],"mark":{"type":"text","fontSize":27,"angle":270,"align":"center","baseline":"alphabetic","lineBreak":"\n","lineHeight":26},"encoding":{"text":{"field":"label"}}},
{"data":{"name":"labels"},"transform":[{"filter":"datum.g==='g2' && datum.r==='um'"}],"mark":{"type":"text","fontSize":19,"angle":270,"align":"center","baseline":"alphabetic"},"encoding":{"text":{"field":"label"}}}
]},
{"encoding":{"x":{"field":"t","type":"quantitative","scale":{"domain":[-8.468,39.493],"nice":false,"zero":false},"axis":null},"y":{"field":"v","type":"quantitative","scale":{"domain":[-4.7138,10.095],"nice":false,"zero":false},"axis":null}},
"layer":[
{"data":{"name":"atpFluo"},"mark":{"type":"line","color":"#ff0000","strokeWidth":2,"strokeJoin":"round"},"encoding":{}},
{"data":{"name":"bars"},"transform":[{"filter":"datum.g==='g3'"}],"mark":{"type":"rule","color":"#000000","strokeWidth":3,"strokeCap":"square"},"encoding":{"x2":{"field":"t2"},"y2":{"field":"v2"}}},
{"data":{"name":"labels"},"transform":[{"filter":"datum.g==='g3' && datum.r==='cond'"}],"mark":{"type":"text","fontSize":35,"align":"left","baseline":"alphabetic"},"encoding":{"text":{"field":"label"}}},
{"data":{"name":"labels"},"transform":[{"filter":"datum.g==='g3' && datum.r==='fluo'"}],"mark":{"type":"text","fontSize":28,"angle":270,"align":"center","baseline":"alphabetic","color":"#ff0000"},"encoding":{"text":{"field":"label"}}},
{"data":{"name":"labels"},"transform":[{"filter":"datum.g==='g3' && datum.r==='time'"}],"mark":{"type":"text","fontSize":18,"align":"center","baseline":"alphabetic"},"encoding":{"text":{"field":"label"}}},
{"data":{"name":"labels"},"transform":[{"filter":"datum.g==='g3' && datum.r==='ff0'"}],"mark":{"type":"text","fontSize":19,"angle":270,"align":"left","baseline":"alphabetic"},"encoding":{"text":{"field":"label"}}}
]},
{"encoding":{"x":{"field":"t","type":"quantitative","scale":{"domain":[-8.468,39.493],"nice":false,"zero":false},"axis":null},"y":{"field":"v","type":"quantitative","scale":{"domain":[-0.880152,1.52247],"nice":false,"zero":false},"axis":null}},
"layer":[
{"data":{"name":"atpSarc"},"mark":{"type":"line","color":"#000000","strokeWidth":2,"strokeJoin":"round"},"encoding":{}},
{"data":{"name":"bars"},"transform":[{"filter":"datum.g==='g4'"}],"mark":{"type":"rule","color":"#000000","strokeWidth":3,"strokeCap":"butt"},"encoding":{"x2":{"field":"t2"},"y2":{"field":"v2"}}},
{"data":{"name":"labels"},"transform":[{"filter":"datum.g==='g4' && datum.r==='sarc'"}],"mark":{"type":"text","fontSize":27,"angle":270,"align":"center","baseline":"alphabetic","lineBreak":"\n","lineHeight":26},"encoding":{"text":{"field":"label"}}},
{"data":{"name":"labels"},"transform":[{"filter":"datum.g==='g4' && datum.r==='um'"}],"mark":{"type":"text","fontSize":19,"angle":270,"align":"center","baseline":"alphabetic"},"encoding":{"text":{"field":"label"}}}
]},
{"encoding":{"x":{"field":"t","type":"quantitative","scale":{"domain":[-4.536,16.1595],"nice":false,"zero":false},"axis":null},"y":{"field":"v","type":"quantitative","scale":{"domain":[-1.033,13.7758],"nice":false,"zero":false},"axis":null}},
"layer":[
{"data":{"name":"xecFluo"},"mark":{"type":"line","color":"#ff0000","strokeWidth":2,"strokeJoin":"round"},"encoding":{}},
{"data":{"name":"labels"},"transform":[{"filter":"datum.g==='g5' && datum.r==='panel'"}],"mark":{"type":"text","fontSize":72,"fontWeight":"bold","align":"center","baseline":"alphabetic"},"encoding":{"text":{"field":"label"}}},
{"data":{"name":"labels"},"transform":[{"filter":"datum.g==='g5' && datum.r==='cond'"}],"mark":{"type":"text","fontSize":35,"align":"left","baseline":"alphabetic"},"encoding":{"text":{"field":"label"}}},
{"data":{"name":"labels"},"transform":[{"filter":"datum.g==='g5' && datum.r==='fluo'"}],"mark":{"type":"text","fontSize":28,"angle":270,"align":"center","baseline":"alphabetic","color":"#ff0000"},"encoding":{"text":{"field":"label"}}}
]},
{"encoding":{"x":{"field":"t","type":"quantitative","scale":{"domain":[-4.536,16.1595],"nice":false,"zero":false},"axis":null},"y":{"field":"v","type":"quantitative","scale":{"domain":[-0.080707,0.842421],"nice":false,"zero":false},"axis":null}},
"layer":[
{"data":{"name":"xecSarc"},"mark":{"type":"line","color":"#000000","strokeWidth":2,"strokeJoin":"round"},"encoding":{}},
{"data":{"name":"labels"},"transform":[{"filter":"datum.g==='g6' && datum.r==='sarc'"}],"mark":{"type":"text","fontSize":27,"angle":270,"align":"center","baseline":"alphabetic","lineBreak":"\n","lineHeight":26},"encoding":{"text":{"field":"label"}}}
]},
{"encoding":{"x":{"field":"t","type":"quantitative","scale":{"domain":[-12.2535,8.442],"nice":false,"zero":false},"axis":null},"y":{"field":"v","type":"quantitative","scale":{"domain":[-1.0437,13.7651],"nice":false,"zero":false},"axis":null}},
"layer":[
{"data":{"name":"xecEtFluo"},"mark":{"type":"line","color":"#ff0000","strokeWidth":2,"strokeJoin":"round"},"encoding":{}},
{"data":{"name":"bars"},"transform":[{"filter":"datum.g==='g7'"}],"mark":{"type":"rule","color":"#000000","strokeWidth":2.5,"strokeCap":"square"},"encoding":{"x2":{"field":"t2"},"y2":{"field":"v2"}}},
{"data":{"name":"labels"},"transform":[{"filter":"datum.g==='g7' && datum.r==='cond'"}],"mark":{"type":"text","fontSize":35,"align":"left","baseline":"alphabetic"},"encoding":{"text":{"field":"label"}}},
{"data":{"name":"labels"},"transform":[{"filter":"datum.g==='g7' && datum.r==='time'"}],"mark":{"type":"text","fontSize":18,"align":"center","baseline":"alphabetic"},"encoding":{"text":{"field":"label"}}},
{"data":{"name":"labels"},"transform":[{"filter":"datum.g==='g7' && datum.r==='ff0'"}],"mark":{"type":"text","fontSize":19,"angle":270,"align":"left","baseline":"alphabetic"},"encoding":{"text":{"field":"label"}}}
]},
{"encoding":{"x":{"field":"t","type":"quantitative","scale":{"domain":[-12.2535,8.442],"nice":false,"zero":false},"axis":null},"y":{"field":"v","type":"quantitative","scale":{"domain":[-0.079373,0.843755],"nice":false,"zero":false},"axis":null}},
"layer":[
{"data":{"name":"xecEtSarc"},"mark":{"type":"line","color":"#000000","strokeWidth":2,"strokeJoin":"round"},"encoding":{}},
{"data":{"name":"bars"},"transform":[{"filter":"datum.g==='g8'"}],"mark":{"type":"rule","color":"#000000","strokeWidth":2.5,"strokeCap":"butt"},"encoding":{"x2":{"field":"t2"},"y2":{"field":"v2"}}},
{"data":{"name":"labels"},"transform":[{"filter":"datum.g==='g8' && datum.r==='um'"}],"mark":{"type":"text","fontSize":19,"angle":270,"align":"center","baseline":"alphabetic"},"encoding":{"text":{"field":"label"}}}
]}
],
"resolve":{"scale":{"x":"independent","y":"independent"}}
}
